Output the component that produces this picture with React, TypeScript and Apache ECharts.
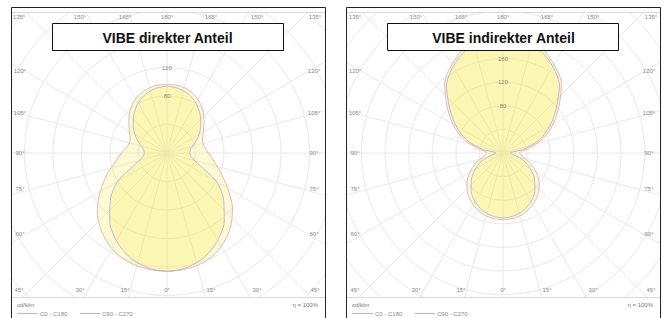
import React, { useEffect, useRef } from "react";
import * as echarts from "echarts";

// ---- data ----
const gammaAngles = [0, 10, 20, 30, 40, 50, 60, 70, 80, 90, 100, 110, 120, 130, 140, 150, 160, 170, 180];

// VIBE direkter Anteil (cd/klm)
const directC0 = [166, 165, 161, 152, 138, 120, 98, 80, 67, 58, 53, 53, 59, 68, 78, 87, 93, 96, 96];
const directC180 = [166, 165, 162, 155, 143, 128, 108, 90, 74, 64, 56, 55, 61, 70, 80, 88, 93, 96, 96];
const directC90C270 = [166, 163, 155, 142, 125, 104, 80, 48, 35, 32, 34, 42, 52, 62, 72, 81, 88, 92, 94];

// VIBE indirekter Anteil (cd/klm)
const indirectC0C180 = [113, 112, 108, 101, 92, 80, 65, 48, 33, 28, 44, 73, 98, 124, 154, 173, 190, 198, 200];
const indirectC90C270 = [110, 108, 103, 95, 84, 70, 54, 37, 20, 12, 35, 66, 92, 118, 149, 169, 185, 194, 197];

const directRadiusLabels = [80, 120];
const indirectRadiusLabels = [80, 120, 160];

const topAngleLabels = ["135°", "150°", "165°", "180°", "165°", "150°", "135°"];
const bottomAngleLabels = ["45°", "30°", "15°", "0°", "15°", "30°", "45°"];
const sideAngleLabels = ["120°", "105°", "90°", "75°", "60°"];
const legendNames = ["C0 - C180", "C90 - C270"];
const unitLabel = "cd/klm";
const efficiencyLabel = "η = 100%";
const titles = ["VIBE direkter Anteil", "VIBE indirekter Anteil"];

// ---- layout ----
const FONT = "'Liberation Sans', Arial, sans-serif";
const RED = "#eaa9a4";
const BLUE = "#afafe6";
const FILL = "rgba(246,234,90,0.26)";
const GRID = "#e8e8ee";
const LABEL = "#8a8a8a";

function loop(right: number[], left: number[]) {
  const pts: number[][] = [];
  for (let i = gammaAngles.length - 1; i >= 0; i--) pts.push([right[i], 180 - gammaAngles[i]]);
  for (let i = 1; i < gammaAngles.length; i++) pts.push([left[i], 180 + gammaAngles[i]]);
  return pts;
}

type Spec = {
  title: string;
  width: number;
  center: [number, number];
  radius: number;
  rMax: number;
  red: number[][];
  blue: number[][];
  radiusLabels: number[];
};

function txt(x: number, y: number, text: string, size: number, color: string, align = "center", weight = "normal", z = 80) {
  return {
    type: "text",
    x,
    y,
    z,
    silent: true,
    style: {
      text,
      fill: color,
      font: `${weight} ${size}px ${FONT}`,
      textAlign: align,
      textVerticalAlign: "middle",
      align,
      verticalAlign: "middle",
    },
  };
}

function buildOption(s: Spec) {
  const W = s.width;
  const cx = s.center[0];
  const topX = [19, 80, 125, 0, 211, 257, 315].map((v, i) => (i === 3 ? cx : v + (cx - 167)));
  const sideY = [71, 113, 153, 189, 234];
  const graphic: any[] = [
    { type: "rect", z: 50, silent: true, shape: { x: 0, y: 0, width: W, height: 12 }, style: { fill: "#fff" } },
    { type: "rect", z: 50, silent: true, shape: { x: 0, y: 297, width: W, height: 30 }, style: { fill: "#fff" } },
    { type: "rect", z: 50, silent: true, shape: { x: 0, y: 0, width: 11, height: 318 }, style: { fill: "#fff" } },
    { type: "rect", z: 50, silent: true, shape: { x: 325, y: 0, width: W - 325, height: 318 }, style: { fill: "#fff" } },
    { type: "line", z: 60, silent: true, shape: { x1: 11, y1: 12.5, x2: 325, y2: 12.5 }, style: { stroke: "#dadada", lineWidth: 1 } },
    { type: "line", z: 60, silent: true, shape: { x1: 11, y1: 297.5, x2: 325, y2: 297.5 }, style: { stroke: "#dadada", lineWidth: 1 } },
    { type: "rect", z: 60, silent: true, shape: { x: 11.5, y: 7.5, width: 314, height: 320 }, style: { fill: "none", stroke: "#222", lineWidth: 1 } },
    { type: "rect", z: 70, silent: true, shape: { x: 52.5, y: 23.5, width: 231, height: 27 }, style: { fill: "#fff", stroke: "#111", lineWidth: 1 } },
    txt(cx + 0.5, 37.5, s.title, 14, "#111", "center", "bold", 75),
  ];
  topAngleLabels.forEach((t, i) => graphic.push(txt(topX[i], 16.5, t, 6, LABEL)));
  bottomAngleLabels.forEach((t, i) => graphic.push(txt(topX[i], 290, t, 6, LABEL)));
  sideAngleLabels.forEach((t, i) => {
    graphic.push(txt(20, sideY[i], t, 6, LABEL));
    graphic.push(txt(314, sideY[i], t, 6, LABEL));
  });
  graphic.push(txt(17, 305, unitLabel, 6, "#777", "left"));
  graphic.push(txt(318, 305, efficiencyLabel, 6, "#777", "right"));
  graphic.push({ type: "line", z: 80, silent: true, shape: { x1: 17, y1: 313.5, x2: 38, y2: 313.5 }, style: { stroke: RED, lineWidth: 1 } });
  graphic.push(txt(40, 313.5, legendNames[0], 6, "#888", "left"));
  graphic.push({ type: "line", z: 80, silent: true, shape: { x1: 80, y1: 313.5, x2: 100, y2: 313.5 }, style: { stroke: BLUE, lineWidth: 1 } });
  graphic.push(txt(102, 313.5, legendNames[1], 6, "#888", "left"));

  const curve = (name: string, data: number[][], color: string) => ({
    name,
    type: "line",
    coordinateSystem: "polar",
    data,
    smooth: 0.3,
    showSymbol: false,
    symbol: "none",
    z: 2,
    lineStyle: { color, width: 1, opacity: 0.85 },
    areaStyle: { color: FILL, opacity: 1 },
    silent: true,
  });

  return {
    animation: false,
    backgroundColor: "#fff",
    polar: { center: s.center, radius: s.radius },
    angleAxis: {
      type: "value",
      min: 0,
      max: 360,
      interval: 15,
      startAngle: 90,
      clockwise: true,
      axisLine: { show: false },
      axisTick: { show: false },
      axisLabel: { show: false },
      splitLine: { show: true, lineStyle: { color: GRID, width: 1 } },
    },
    radiusAxis: {
      type: "value",
      min: 0,
      max: s.rMax,
      interval: 40,
      axisLine: { show: false },
      axisTick: { show: false },
      axisLabel: { show: false },
      splitLine: { show: true, lineStyle: { color: GRID, width: 1 } },
    },
    series: [
      curve(legendNames[0], s.red, RED),
      curve(legendNames[1], s.blue, BLUE),
      {
        type: "scatter",
        coordinateSystem: "polar",
        data: s.radiusLabels.map((r) => [r, 0]),
        symbolSize: 2,
        itemStyle: { color: "rgba(0,0,0,0)" },
        z: 5,
        silent: true,
        labelLayout: { hideOverlap: false },
        label: {
          show: true,
          position: "inside",
          formatter: (p: any) => String(p.value[0]),
          fontSize: 6,
          color: "#666",
          fontFamily: FONT,
        },
      },
    ],
    graphic,
  };
}

const specs: Spec[] = [
  {
    title: titles[0],
    width: 335,
    center: [167, 153],
    radius: 228,
    rMax: 320,
    red: loop(directC0, directC180),
    blue: loop(directC90C270, directC90C270),
    radiusLabels: directRadiusLabels,
  },
  {
    title: titles[1],
    width: 334,
    center: [168, 153],
    radius: 236,
    rMax: 400,
    red: loop(indirectC0C180, indirectC0C180),
    blue: loop(indirectC90C270, indirectC90C270),
    radiusLabels: indirectRadiusLabels,
  },
];

export default function App() {
  const leftRef = useRef<HTMLDivElement>(null);
  const rightRef = useRef<HTMLDivElement>(null);
  useEffect(() => {
    const charts: echarts.ECharts[] = [];
    [leftRef, rightRef].forEach((ref, i) => {
      if (!ref.current) return;
      const c = echarts.init(ref.current, undefined, { renderer: "svg" });
      c.setOption(buildOption(specs[i]) as any);
      charts.push(c);
    });
    return () => charts.forEach((c) => c.dispose());
  }, []);
  return (
    <div style={{ position: "fixed", left: 0, top: 0, width: 669, height: 318, background: "#fff", overflow: "hidden" }}>
      <div ref={leftRef} style={{ position: "absolute", left: 0, top: 0, width: 335, height: 318 }} />
      <div ref={rightRef} style={{ position: "absolute", left: 335, top: 0, width: 334, height: 318 }} />
    </div>
  );
}
